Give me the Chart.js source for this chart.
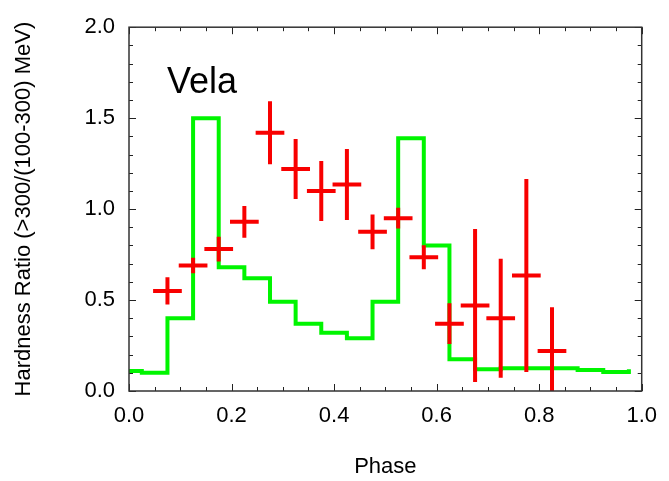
<!DOCTYPE html>
<html>
<head>
<meta charset="utf-8">
<script src="https://cdn.jsdelivr.net/npm/chart.js@4"></script>
<style>
  html, body { margin: 0; padding: 0; background: #fff; }
  #wrap { width: 669px; height: 481px; }
</style>
</head>
<body>
<div id="wrap"><canvas id="velaChart"></canvas></div>
<script>
// green histogram: bin edges and the level in each bin
const binEdges = [0.0, 0.025, 0.075, 0.125, 0.175, 0.225, 0.275, 0.325, 0.375, 0.425, 0.475,
                  0.525, 0.575, 0.625, 0.675, 0.725, 0.775, 0.825, 0.875, 0.925, 0.975];
const binLevel = [0.11, 0.10, 0.40, 1.50, 0.68, 0.62, 0.49, 0.37, 0.32, 0.29,
                  0.49, 1.39, 0.80, 0.175, 0.12, 0.125, 0.125, 0.125, 0.115, 0.105];
const closingLevel = 0.12;

// red points with error bars
const phase = [0.075, 0.125, 0.175, 0.225, 0.275, 0.325, 0.375, 0.425,
               0.475, 0.525, 0.575, 0.625, 0.675, 0.725, 0.775, 0.825];
const hardness = [0.55, 0.69, 0.78, 0.93, 1.42, 1.22, 1.10, 1.135,
                  0.875, 0.95, 0.735, 0.37, 0.47, 0.40, 0.635, 0.22];
const hardnessErr = [0.075, 0.042, 0.068, 0.087, 0.173, 0.165, 0.165, 0.195,
                     0.096, 0.057, 0.066, 0.112, 0.42, 0.327, 0.53, 0.24];
const halfBin = 0.028;

const xTicks = [0.0, 0.2, 0.4, 0.6, 0.8, 1.0];
const yTicks = [0.0, 0.5, 1.0, 1.5, 2.0];

const FONT = '"Liberation Sans", Arial, sans-serif';

// point i carries the level of the bin that ends at edge i (step drawn horizontally first)
const histPoints = [{ x: binEdges[0], y: binLevel[0] }];
for (let i = 1; i < binEdges.length; i++) {
    histPoints.push({ x: binEdges[i], y: binLevel[i - 1] });
    histPoints.push({ x: binEdges[i], y: i < binLevel.length ? binLevel[i] : closingLevel });
}

const hBars = [];
const vBars = [];
phase.forEach((p, i) => {
    hBars.push({ x: p - halfBin, y: hardness[i] }, { x: p + halfBin, y: hardness[i] }, { x: p, y: null });
    vBars.push({ x: p, y: hardness[i] - hardnessErr[i] }, { x: p, y: hardness[i] + hardnessErr[i] }, { x: p, y: null });
});

// inward ticks on all four sides, frame, and the "Vela" label
const frameTicks = {
    id: 'frameTicks',
    afterDatasetsDraw(chart) {
        const { ctx, chartArea: a, scales: { x, y } } = chart;
        ctx.save();
        ctx.strokeStyle = '#222';
        ctx.lineWidth = 1;
        ctx.beginPath();
        for (let k = 0; k <= 20; k++) {
            const px = Math.round(x.getPixelForValue(k * 0.05)) + 0.5;
            const len = k % 4 === 0 ? 7 : 4;
            ctx.moveTo(px, a.bottom); ctx.lineTo(px, a.bottom - len);
            ctx.moveTo(px, a.top); ctx.lineTo(px, a.top + len);
        }
        for (let k = 0; k <= 20; k++) {
            const py = Math.round(y.getPixelForValue(k * 0.1)) + 0.5;
            const len = k % 5 === 0 ? 7 : 4;
            ctx.moveTo(a.left, py); ctx.lineTo(a.left + len, py);
            ctx.moveTo(a.right, py); ctx.lineTo(a.right - len, py);
        }
        ctx.stroke();
        ctx.lineWidth = 1.5;
        ctx.strokeStyle = '#333';
        ctx.strokeRect(a.left, a.top, a.right - a.left, a.bottom - a.top);

        ctx.fillStyle = '#000';
        ctx.font = '36px ' + FONT;
        ctx.textBaseline = 'alphabetic';
        ctx.fillText('Vela', a.left + 38, 93);
        ctx.restore();
    },
};

new Chart(document.getElementById('velaChart'), {
    type: 'line',
    data: {
        datasets: [
            {
                label: 'hard',
                data: hBars,
                borderColor: 'rgb(248, 0, 0)',
                borderWidth: 4,
                borderCapStyle: 'butt',
                pointRadius: 0,
                spanGaps: false,
                order: 1,
            },
            {
                label: 'hard err',
                data: vBars,
                borderColor: 'rgb(248, 0, 0)',
                borderWidth: 4,
                borderCapStyle: 'butt',
                pointRadius: 0,
                spanGaps: false,
                order: 1,
            },
            {
                label: 'soft',
                data: histPoints,
                borderColor: 'rgb(0, 245, 0)',
                borderWidth: 4,
                borderJoinStyle: 'miter',
                pointRadius: 0,
                tension: 0,
                order: 2,
            },
        ],
    },
    options: {
        responsive: true,
        maintainAspectRatio: false,
        animation: false,
        layout: { padding: { top: 26, right: 21, left: 0, bottom: 0 } },
        plugins: {
            legend: { display: false },
            tooltip: { enabled: false },
        },
        scales: {
            x: {
                type: 'linear',
                min: 0,
                max: 1,
                afterFit: (s) => { s.height = 90; },
                afterBuildTicks: (s) => { s.ticks = xTicks.map((v) => ({ value: v })); },
                grid: { display: false, drawTicks: false },
                border: { display: false },
                ticks: {
                    padding: 12,
                    color: '#000',
                    font: { family: FONT, size: 22 },
                    callback: (v) => v.toFixed(1),
                    maxRotation: 0,
                },
                title: {
                    display: true,
                    text: 'Phase',
                    color: '#000',
                    font: { family: FONT, size: 22 },
                    padding: { top: 0, bottom: 1 },
                },
            },
            y: {
                type: 'linear',
                min: 0,
                max: 2,
                afterFit: (s) => { s.width = 129; },
                afterBuildTicks: (s) => { s.ticks = yTicks.map((v) => ({ value: v })); },
                grid: { display: false, drawTicks: false },
                border: { display: false },
                ticks: {
                    padding: 14,
                    color: '#000',
                    font: { family: FONT, size: 22 },
                    callback: (v) => v.toFixed(1),
                },
                title: {
                    display: true,
                    text: 'Hardness Ratio (>300/(100-300) MeV)',
                    color: '#000',
                    font: { family: FONT, size: 22 },
                    padding: { top: 11, bottom: 0 },
                },
            },
        },
    },
    plugins: [frameTicks],
});
</script>
</body>
</html>
